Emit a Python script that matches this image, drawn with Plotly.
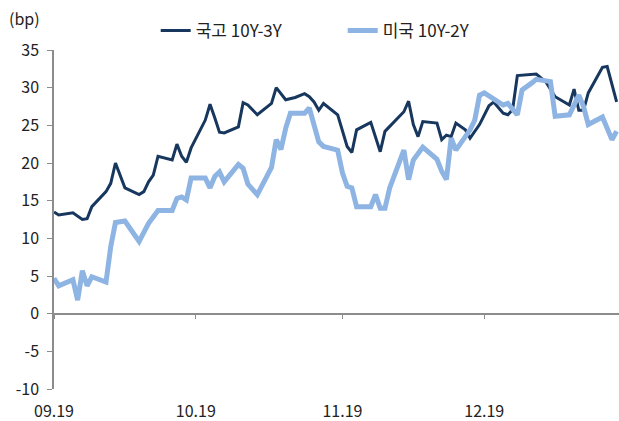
import plotly.graph_objects as go

# 국고 10Y-3Y spread (bp)
kr_dates = [
    "2019-09-02", "2019-09-03", "2019-09-06", "2019-09-08", "2019-09-09", "2019-09-10",
    "2019-09-13", "2019-09-14", "2019-09-15", "2019-09-17", "2019-09-20", "2019-09-21",
    "2019-09-22", "2019-09-23", "2019-09-24", "2019-09-27", "2019-09-28", "2019-09-29",
    "2019-09-30", "2019-10-01", "2019-10-04", "2019-10-05", "2019-10-06", "2019-10-07",
    "2019-10-08", "2019-10-11", "2019-10-12", "2019-10-13", "2019-10-15", "2019-10-18",
    "2019-10-19", "2019-10-21", "2019-10-23", "2019-10-25", "2019-10-26", "2019-10-27",
    "2019-10-28", "2019-10-29", "2019-11-01", "2019-11-02", "2019-11-03", "2019-11-04",
    "2019-11-05", "2019-11-08", "2019-11-10", "2019-11-11", "2019-11-15", "2019-11-16",
    "2019-11-17", "2019-11-18", "2019-11-19", "2019-11-22", "2019-11-23", "2019-11-24",
    "2019-11-25", "2019-11-26", "2019-11-28", "2019-11-29", "2019-12-01", "2019-12-03",
    "2019-12-04", "2019-12-06", "2019-12-07", "2019-12-08", "2019-12-09", "2019-12-13",
    "2019-12-15", "2019-12-17", "2019-12-20", "2019-12-21", "2019-12-22", "2019-12-23",
    "2019-12-24", "2019-12-27", "2019-12-28", "2019-12-30",
]
kr_spread = [
    13.5, 13.1, 13.4, 12.5, 12.6, 14.2,
    16.2, 17.3, 20.0, 16.7, 15.8, 16.2,
    17.5, 18.4, 20.9, 20.4, 22.5, 20.9,
    20.1, 22.0, 25.7, 27.8, 26.0, 24.1,
    24.0, 24.8, 28.0, 27.7, 26.4, 27.9,
    30.0, 28.4, 28.7, 29.2, 28.8, 28.1,
    27.0, 27.9, 26.4, 24.2, 22.2, 21.4,
    24.4, 25.4, 21.5, 24.2, 26.8, 28.2,
    25.1, 23.5, 25.5, 25.3, 23.1, 23.7,
    23.5, 25.3, 24.4, 23.3, 25.1, 27.6,
    28.1, 26.6, 26.4, 27.1, 31.6, 31.8,
    30.8, 28.8, 27.7, 29.8, 27.0, 27.0,
    29.3, 32.7, 32.8, 28.1,
]

# 미국 10Y-2Y spread (bp)
us_dates = [
    "2019-09-02", "2019-09-03", "2019-09-06", "2019-09-07", "2019-09-08", "2019-09-09",
    "2019-09-10", "2019-09-13", "2019-09-14", "2019-09-15", "2019-09-17", "2019-09-20",
    "2019-09-22", "2019-09-24", "2019-09-27", "2019-09-28", "2019-09-29", "2019-09-30",
    "2019-10-01", "2019-10-04", "2019-10-05", "2019-10-06", "2019-10-07", "2019-10-08",
    "2019-10-11", "2019-10-12", "2019-10-13", "2019-10-15", "2019-10-18", "2019-10-19",
    "2019-10-20", "2019-10-21", "2019-10-22", "2019-10-25", "2019-10-26", "2019-10-27",
    "2019-10-28", "2019-10-29", "2019-11-01", "2019-11-02", "2019-11-03", "2019-11-04",
    "2019-11-05", "2019-11-08", "2019-11-09", "2019-11-10", "2019-11-11", "2019-11-12",
    "2019-11-15", "2019-11-16", "2019-11-17", "2019-11-19", "2019-11-22", "2019-11-23",
    "2019-11-24", "2019-11-25", "2019-11-26", "2019-11-29", "2019-11-30", "2019-12-01",
    "2019-12-02", "2019-12-06", "2019-12-07", "2019-12-09", "2019-12-10", "2019-12-12",
    "2019-12-13", "2019-12-16", "2019-12-17", "2019-12-20", "2019-12-22", "2019-12-23",
    "2019-12-24", "2019-12-27", "2019-12-29", "2019-12-30",
]
us_spread = [
    4.7, 3.7, 4.5, 1.8, 5.7, 3.7,
    4.9, 4.2, 8.9, 12.1, 12.3, 9.6,
    12.0, 13.7, 13.7, 15.3, 15.5, 15.1,
    18.0, 18.0, 16.7, 18.2, 18.8, 17.5,
    19.8, 19.3, 17.2, 15.8, 19.4, 23.1,
    21.8, 24.6, 26.6, 26.6, 27.3, 24.8,
    22.8, 22.2, 21.7, 18.7, 16.9, 16.7,
    14.2, 14.2, 15.8, 14.0, 14.0, 16.7,
    21.7, 17.8, 20.4, 22.1, 20.5, 18.9,
    17.8, 23.3, 21.7, 24.4, 25.7, 29.0,
    29.3, 27.7, 27.9, 26.4, 29.7, 30.6,
    31.1, 30.8, 26.2, 26.4, 29.0, 27.5,
    25.1, 26.1, 23.1, 24.2,
]

tick_dates = ["2019-09-02", "2019-10-02", "2019-11-02", "2019-12-02"]
tick_labels = ["09.19", "10.19", "11.19", "12.19"]
y_ticks = [-10, -5, 0, 5, 10, 15, 20, 25, 30, 35]
y_labels = ["-10", "-5", "0", "5", "10", "15", "20", "25", "30", "35"]

FONT = "Noto Sans CJK KR"
AXIS_GRAY = "#8c8c8c"
DARK = "#17375e"
LIGHT = "#8db4e2"

fig = go.Figure()
fig.add_trace(
    go.Scatter(
        x=kr_dates, y=kr_spread, name="국고 10Y-3Y", mode="lines",
        line={"color": DARK, "width": 3},
    )
)
fig.add_trace(
    go.Scatter(
        x=us_dates, y=us_spread, name="미국 10Y-2Y", mode="lines",
        line={"color": LIGHT, "width": 5},
        xaxis="x2",
    )
)

fig.update_layout(
    width=619,
    height=421,
    margin={"l": 54, "r": 0, "t": 50, "b": 32, "autoexpand": False},
    paper_bgcolor="white",
    plot_bgcolor="white",
    font={"family": FONT, "size": 16, "color": "#222222"},
    showlegend=True,
    legend={
        "orientation": "h",
        "x": 0.18,
        "y": 1.056,
        "xanchor": "left",
        "yanchor": "middle",
        "entrywidth": 142,
        "font": {"size": 17},
        "bgcolor": "rgba(0,0,0,0)",
    },
    xaxis={
        "type": "date",
        "range": ["2019-09-02", "2019-12-30 12:00"],
        "tickvals": tick_dates,
        "ticktext": tick_labels,
        "showline": False,
        "showgrid": False,
        "zeroline": False,
        "ticks": "outside",
        "ticklen": 8,
        "tickcolor": "rgba(0,0,0,0)",
        "tickfont": {"size": 16},
    },
    xaxis2={
        "type": "date",
        "matches": "x",
        "overlaying": "x",
        "anchor": "free",
        "position": 10 / 45,
        "side": "bottom",
        "tickvals": tick_dates,
        "showticklabels": False,
        "showline": True,
        "linecolor": AXIS_GRAY,
        "linewidth": 1.5,
        "ticks": "outside",
        "ticklen": 5,
        "tickcolor": AXIS_GRAY,
        "showgrid": False,
        "zeroline": False,
    },
    yaxis={
        "range": [-10, 35],
        "tickvals": y_ticks,
        "ticktext": y_labels,
        "showline": True,
        "linecolor": AXIS_GRAY,
        "linewidth": 1.5,
        "ticks": "outside",
        "ticklen": 5,
        "tickcolor": AXIS_GRAY,
        "ticklabelstandoff": 5,
        "showgrid": False,
        "zeroline": False,
        "tickfont": {"size": 16},
    },
    annotations=[
        {
            "text": "(bp)",
            "xref": "paper",
            "yref": "paper",
            "x": -0.022,
            "y": 1.094,
            "xanchor": "right",
            "yanchor": "middle",
            "showarrow": False,
            "font": {"size": 16},
        }
    ],
)

# drop the default page margin so the 619x421 figure fills the window exactly
fig.write_html(
    "out.html",
    config={"displayModeBar": False},
    post_script="document.body.style.margin='0';",
)
